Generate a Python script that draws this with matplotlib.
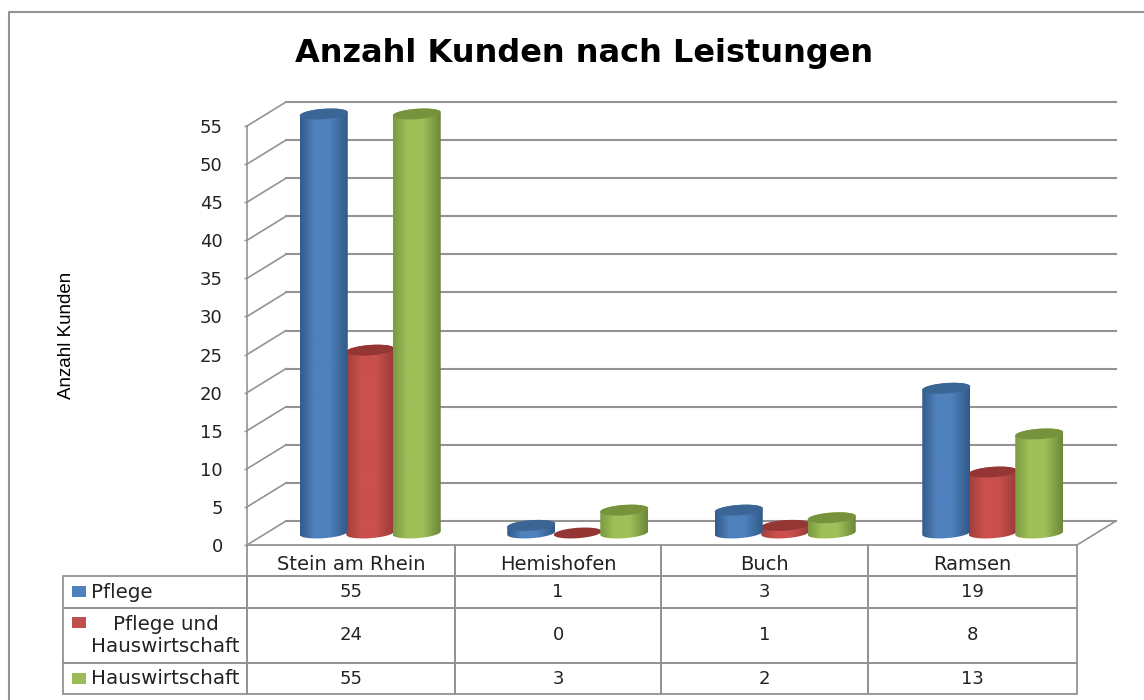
import numpy as np
import matplotlib
matplotlib.use("Agg")
import matplotlib.pyplot as plt
from matplotlib.patches import Polygon, Rectangle
from matplotlib.colors import LinearSegmentedColormap
from matplotlib.table import Table
from matplotlib.transforms import ScaledTranslation

plt.rcParams["font.family"] = ["DejaVu Sans"]

# ---- data ----
places = ["Stein am Rhein", "Hemishofen", "Buch", "Ramsen"]
series_names = ["Pflege", "Pflege und\nHauswirtschaft", "Hauswirtschaft"]
pflege = [55, 1, 3, 19]
pflege_haus = [24, 0, 1, 8]
haus = [55, 3, 2, 13]
y_ticks = list(range(0, 60, 5))

values = [pflege, pflege_haus, haus]
body_cols = [("#335c8c", "#4f81bd", "#315a88"),
             ("#a03f3c", "#c9504d", "#9a3c3a"),
             ("#7c9a42", "#9fc059", "#6c8838")]
cap_cols = ["#3a6595", "#943634", "#76923c"]
key_cols = ["#4f81bd", "#c0504d", "#9bbb59"]
grey = "#939393"

W, H = 1144, 700
DPI = 100
x0, x1 = 247, 1077     # front edge of the floor, pixels
y0, y55 = 545, 126     # value 0 and value 55 at the front, pixels
depth = (39, 24)       # how far the back wall is shifted

fig = plt.figure(figsize=(W / DPI, H / DPI), dpi=DPI, facecolor="white")
ax = fig.add_axes([x0 / W, 1 - y0 / H, (x1 - x0) / W, (y0 - y55) / H])
ax.set_xlim(0, len(places))
ax.set_ylim(0, 55)
ax.patch.set_visible(False)
for s in ["top", "right", "bottom"]:
    ax.spines[s].set_visible(False)
ax.spines["left"].set_color(grey)
ax.spines["left"].set_linewidth(1.2)
ax.set_xticks([])
ax.set_yticks(y_ticks)
ax.set_yticklabels([str(v) for v in y_ticks], fontsize=13, color="#222222")
ax.tick_params(axis="y", length=2, width=1, color=grey, pad=15.5)
ax.set_ylabel("Anzahl Kunden", family=["Liberation Sans"],
              fontsize=13.5, labelpad=0, color="black")
ax.yaxis.set_label_coords(-0.207, 0.5)


def shifted(dx, dy):
    # data transform moved by a number of pixels (dy counts upward)
    return ax.transData + ScaledTranslation(dx / DPI, dy / DPI, fig.dpi_scale_trans)


back = shifted(*depth)
n_cat = len(places)
unit_x = (x1 - x0) / n_cat
unit_y = (y0 - y55) / 55
dx_unit = depth[0] / unit_x
dy_unit = depth[1] / unit_y

# back wall, side wall, floor
for v in y_ticks:
    ax.plot([0, n_cat], [v, v], color=grey, lw=1.5, transform=back, clip_on=False, zorder=1)
    ax.plot([0, dx_unit], [v, v + dy_unit], color=grey, lw=1.2, clip_on=False, zorder=1)
ax.plot([n_cat, n_cat + dx_unit], [0, dy_unit], color=grey, lw=1.2, clip_on=False, zorder=1)

# ---- cylinders ----
mid = shifted(depth[0] / 2, depth[1] / 2)
half_w = 24 / unit_x
half_h = 5.2 / unit_y
tilt = 0.07 * unit_x / unit_y
step = 46.5 / unit_x
t = np.linspace(0, 2 * np.pi, 90)


def cylinder(cx, val, idx):
    ex = half_w * np.cos(t)
    ey = val + half_h * np.sin(t) + tilt * ex
    z = 3 + (idx != 1)
    if val > 0:
        lower = t[t >= np.pi]
        upper = np.linspace(0, np.pi, 30)
        lx = half_w * np.cos(lower)
        ux = half_w * np.cos(upper)
        outline = np.column_stack([
            cx + np.r_[lx, ux],
            np.r_[half_h * np.sin(lower) + tilt * lx, val + half_h * np.sin(upper) + tilt * ux],
        ])
        clip = Polygon(outline, closed=True, transform=mid, fc="none", ec="none")
        ax.add_patch(clip)
        cmap = LinearSegmentedColormap.from_list(
            "c", [(0, body_cols[idx][0]), (0.3, body_cols[idx][1]),
                  (0.62, body_cols[idx][1]), (1, body_cols[idx][2])])
        grad = np.linspace(0, 1, 64).reshape(1, -1)
        im = ax.imshow(grad, cmap=cmap, aspect="auto", interpolation="bilinear",
                       extent=(cx - half_w, cx + half_w, -2, val + 2), zorder=z)
        im.set_transform(mid)
        im.set_clip_box(fig.bbox)
        im.set_clip_path(clip)
    ax.fill(cx + ex, ey, color=cap_cols[idx], transform=mid, lw=0, clip_on=False, zorder=z)


for c in range(n_cat):
    for i, vals in enumerate(values):
        cylinder(c + 0.5 + (i - 1) * step, vals[c], i)
ax.set_xlim(0, n_cat)
ax.set_ylim(0, 55)

# ---- data table ----
row_tops = [545, 576, 608, 663, 694]
col_edges = [63, 247, 455, 661, 868, 1077]
tab_w = col_edges[-1] - col_edges[0]
tab_h = row_tops[-1] - row_tops[0]
ax_w = x1 - x0
ax_h = y0 - y55
table = Table(ax, bbox=[(col_edges[0] - x0) / ax_w, -tab_h / ax_h, tab_w / ax_w, tab_h / ax_h])
table.auto_set_font_size(False)
rows = [places] + [[str(v) for v in vals] for vals in values]
for r, row in enumerate(rows):
    h = (row_tops[r + 1] - row_tops[r]) / tab_h
    for c, txt in enumerate(row):
        w = (col_edges[c + 2] - col_edges[c + 1]) / tab_w
        cell = table.add_cell(r, c + 1, w, h, text=txt, loc="center", edgecolor=grey, facecolor="none")
        cell.set_linewidth(1.3)
        cell.get_text().set_color("#222222")
        cell.get_text().set_fontsize(14 if r == 0 else 13)
        if r == 0:
            # header labels sit a little low in their row
            cell.get_text().set_transform(ScaledTranslation(0, -4 / DPI, fig.dpi_scale_trans))
    w = (col_edges[1] - col_edges[0]) / tab_w
    if r == 0:
        cell = table.add_cell(r, 0, w, h, text="", edgecolor="none", facecolor="none")
        cell.visible_edges = ""
    else:
        loc = "left" if r == 1 else "right"
        cell = table.add_cell(r, 0, w, h, text=series_names[r - 1], loc=loc, edgecolor=grey, facecolor="none")
        cell.PAD = 28 / 184 if r == 1 else 7 / 184
        cell.set_linewidth(1.3)
        cell.get_text().set_color("#222222")
        cell.get_text().set_fontsize(14.3)
        cell.get_text().set_multialignment("center")
ax.add_table(table)

# ---- overlay in pixels: frame, legend keys, title ----
over = fig.add_axes([0, 0, 1, 1], zorder=5)
over.set_xlim(0, W)
over.set_ylim(H, 0)
over.axis("off")
over.plot([9, 9, W], [H, 12, 12], color=grey, lw=1.5)
for col, y in zip(key_cols, [586, 617, 673]):
    over.add_patch(Rectangle((72, y), 14, 11, fc=col, ec="none"))
over.text(584, 62, "Anzahl Kunden nach Leistungen", ha="center", va="baseline",
          fontsize=23, fontweight="bold", color="black")

fig.savefig("out.png", dpi=DPI)
